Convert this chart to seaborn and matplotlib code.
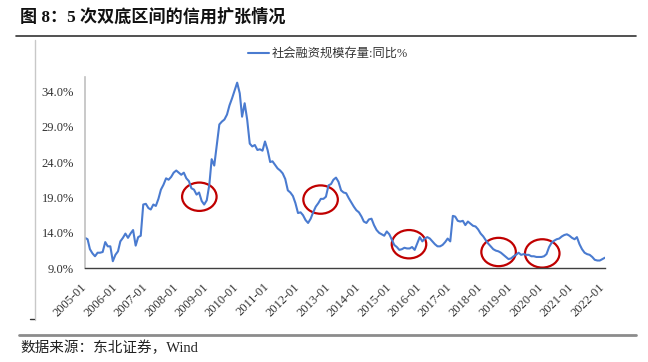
import pandas as pd
import matplotlib
matplotlib.use('Agg')
import matplotlib.pyplot as plt
import matplotlib.dates as mdates
from matplotlib.patches import Ellipse
from matplotlib.lines import Line2D
import seaborn as sns

# monthly yoy growth of total social financing stock (%)
v2005 = [13.3, 13.1, 11.7, 11.1, 10.7, 11.2, 11.2, 11.3, 12.7, 12.1, 12.1, 10.0]
v2006 = [10.9, 11.4, 12.8, 13.3, 13.9, 13.3, 13.9, 14.4, 12.2, 13.4, 13.6, 18.0]
v2007 = [18.1, 17.5, 17.3, 18.0, 17.8, 18.8, 20.1, 20.8, 21.7, 21.5, 21.9, 22.5]
v2008 = [22.8, 22.5, 22.2, 22.5, 21.7, 21.3, 20.3, 20.1, 19.4, 19.7, 18.5, 18.0]
v2009 = [18.6, 20.8, 24.4, 23.5, 26.4, 29.3, 29.7, 30.0, 30.7, 32.0, 33.0, 34.1]
v2010 = [35.2, 33.7, 30.4, 32.3, 30.0, 26.6, 26.2, 26.4, 25.7, 25.8, 25.6, 26.9]
v2011 = [25.7, 24.0, 24.1, 23.6, 23.1, 22.8, 22.4, 21.6, 20.0, 19.7, 19.2, 18.2]
v2012 = [16.8, 16.9, 16.5, 15.8, 15.4, 16.0, 16.9, 17.7, 18.2, 18.8, 18.8, 19.1]
v2013 = [20.7, 20.9, 21.5, 21.8, 21.2, 20.0, 19.7, 19.6, 18.9, 18.3, 17.7, 17.2]
v2014 = [16.9, 16.3, 15.6, 15.4, 15.9, 16.0, 15.1, 14.4, 14.0, 13.8, 13.6, 14.2]
v2015 = [13.8, 13.0, 12.3, 12.0, 11.6, 11.7, 11.9, 11.8, 11.8, 12.0, 11.6, 12.5]
v2016 = [13.4, 12.8, 13.2, 13.4, 13.2, 12.8, 12.4, 12.1, 12.1, 12.3, 12.7, 13.2]
v2017 = [12.8, 16.4, 16.3, 15.7, 15.6, 15.7, 15.1, 15.6, 15.3, 15.0, 14.9, 14.5]
v2018 = [13.9, 13.5, 13.0, 12.5, 12.1, 11.7, 11.5, 11.4, 11.2, 10.9, 10.6, 10.3]
v2019 = [10.4, 10.7, 10.9, 11.2, 10.9, 11.0, 10.9, 10.9, 10.7, 10.7, 10.6, 10.6]
v2020 = [10.6, 10.7, 11.0, 12.0, 12.6, 12.9, 13.1, 13.2, 13.5, 13.7, 13.8, 13.6]
v2021 = [13.3, 13.1, 13.4, 12.4, 11.7, 11.2, 11.0, 10.9, 10.6, 10.2, 10.1, 10.1]
v2022 = [10.3, 10.5]

series_name = '社会融资规模存量:同比%'
start_month = '2005-01'
tick_years = list(range(2005, 2023))
y_ticks = [9, 14, 19, 24, 29, 34]

# the five "double bottom" circles
circle_dates = ['2008-10-04', '2012-09-28', '2015-08-25', '2018-08-04', '2020-01-10']
circle_levels = [19.1, 18.7, 12.4, 11.3, 11.1]

title = '图 8：5 次双底区间的信用扩张情况'
source = '数据来源：东北证券，Wind'

values = (v2005 + v2006 + v2007 + v2008 + v2009 + v2010 + v2011 + v2012 + v2013
          + v2014 + v2015 + v2016 + v2017 + v2018 + v2019 + v2020 + v2021 + v2022)
dates = pd.date_range(start_month, periods=len(values), freq='MS')
df = pd.DataFrame({'date': dates, 'value': values})

sns.set_theme(style='white')
plt.rcParams['font.family'] = ['Liberation Serif', 'Noto Sans CJK SC']

W, H = 648, 362
fig = plt.figure(figsize=(W / 100, H / 100), dpi=100)
ax = fig.add_axes([85 / W, 1 - 268.3 / H, 520 / W, 191.3 / H])

sns.lineplot(data=df, x='date', y='value', ax=ax, color='#4a7bd0',
             linewidth=1.5, label=series_name)

for d, lvl in zip(circle_dates, circle_levels):
    ax.add_patch(Ellipse((mdates.date2num(pd.Timestamp(d)), lvl), width=414, height=4.0,
                         fill=False, edgecolor='#c00000', linewidth=1.6, clip_on=False))

ax.set_xlim(dates[0], dates[-1])
ax.set_ylim(9, 36)
ax.set_yticks(y_ticks)
ax.set_yticklabels([f'{t:.1f}%' for t in y_ticks])
ticks = [pd.Timestamp(f'{y}-01-01') for y in tick_years]
ax.set_xticks(ticks)
ax.set_xticklabels([f'{y}-01' for y in tick_years], rotation=45, ha='right',
                   va='center', rotation_mode='anchor')
ax.set_xlabel('')
ax.set_ylabel('')

ax.tick_params(axis='x', direction='in', length=4, width=1, color='#404040',
               pad=12, labelsize=9, labelcolor='#333333')
ax.tick_params(axis='y', length=0, pad=8, labelsize=9, labelcolor='#333333')
for s in ['top', 'right']:
    ax.spines[s].set_visible(False)
ax.spines['left'].set_color('#c0c0c0')
ax.spines['left'].set_linewidth(1.2)
ax.spines['bottom'].set_color('#404040')
ax.spines['bottom'].set_linewidth(1.0)

ax.legend(loc='center left', bbox_to_anchor=(248 / W, 1 - 54 / H), bbox_transform=fig.transFigure,
          frameon=False, fontsize=8.8, handlelength=1.7, handletextpad=0.25,
          borderpad=0, borderaxespad=0, labelcolor='#333333')

fig.text(20 / W, 1 - 17 / H, title, fontsize=12.3, fontweight='bold', va='center', ha='left',
         color='#111111')
fig.add_artist(Line2D([16 / W, 636 / W], [1 - 36 / H] * 2, color='#333333', linewidth=1.2))
fig.add_artist(Line2D([34.5 / W] * 2, [1 - 40 / H, 1 - 320 / H], color='#c8c8c8', linewidth=1))
fig.add_artist(Line2D([30 / W, 34 / W], [1 - 319 / H] * 2, color='#333333', linewidth=1))
fig.add_artist(Line2D([19 / W, 636 / W], [1 - 334.5 / H] * 2, color='#8c8c8c', linewidth=2))
fig.text(20 / W, 1 - 348 / H, source, fontsize=10.5, va='center', ha='left', color='#222222')

fig.savefig('out.png', dpi=100)
